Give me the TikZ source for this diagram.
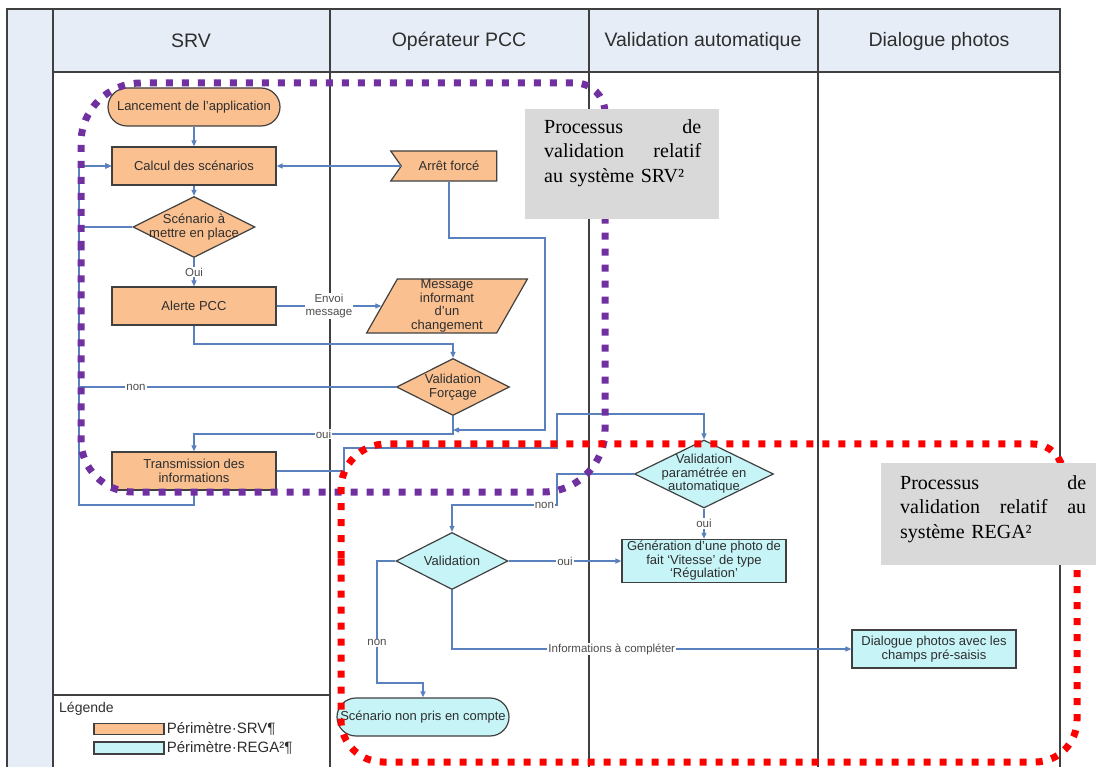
\documentclass[tikz,border=0pt]{standalone}
\usepackage{fontspec}
\setmainfont{Liberation Sans}
\newfontfamily\notefont{Liberation Serif}
\usepackage{xcolor}
\definecolor{ink}{HTML}{2E2E2E}
\definecolor{frame}{HTML}{404040}
\definecolor{laneFill}{HTML}{E6EDF7}
\definecolor{srvFill}{HTML}{FAC090}
\definecolor{regaFill}{HTML}{C6F4F7}
\definecolor{wire}{HTML}{5B80BE}
\definecolor{noteGrey}{HTML}{D9D9D9}
\definecolor{srvZone}{HTML}{7030A0}
\definecolor{regaZone}{HTML}{FF0000}
\usetikzlibrary{shapes.geometric, shapes.symbols, arrows.meta, positioning}

\begin{document}
\begin{tikzpicture}[
  x=1pt, y=-1pt,
  font=\fontsize{13}{13.5}\selectfont,
  every node/.style={align=center, text=ink},
  lane/.style={draw=frame, line width=1.8pt},
  head/.style={font=\fontsize{19.5}{21}\selectfont},
  task/.style={rectangle, draw=frame, line width=1.2pt, minimum width=164pt,
    minimum height=38pt, inner sep=2pt},
  srv/.style={fill=srvFill},
  rega/.style={fill=regaFill},
  term/.style={task, rounded corners=19pt, minimum width=172pt},
  decision/.style={diamond, draw=frame, line width=1.2pt, inner sep=0pt},
  flow/.style={-{Triangle[length=6pt, width=5pt]}, draw=wire, line width=1.2pt},
  lbl/.style={fill=white, inner sep=1pt, font=\fontsize{11.5}{12.5}\selectfont, text=ink!85},
  zone/.style={line width=7pt, dash pattern=on 7pt off 9pt},
  note/.style={rectangle, fill=noteGrey, anchor=north west, inner sep=0pt},
  notetext/.style={anchor=north west, inner sep=0pt, text width=#1, align=left,
    font=\notefont\fontsize{20}{24.5}\selectfont, text=black},
  key/.style={anchor=west, inner sep=0pt, font=\fontsize{15}{16}\selectfont},
]
  \useasboundingbox (0,0) rectangle (1096,767);

  % swimlanes
  \fill[laneFill] (7,9) rectangle (53,767);
  \fill[laneFill] (53,9) rectangle (1060,72);
  \draw[lane] (7,767) -- (7,9) -- (1060,9) -- (1060,767);
  \draw[lane] (53,9) -- (53,767);
  \draw[lane] (53,72) -- (1060,72);
  \foreach \x in {330,589,818} \draw[lane] (\x,9) -- (\x,767);
  \node[head] (hsrv) at (191,41) {SRV};
  \node[head] (hpcc) at (459,41) {Opérateur PCC};
  \node[head] (hauto) at (703,41) {Validation automatique};
  \node[head] (hphoto) at (939,41) {Dialogue photos};

  % legend
  \draw[lane] (53,695) -- (330,695);
  \node[anchor=west, inner sep=0pt, font=\fontsize{14}{15}\selectfont] (legend) at (59,709) {Légende};
  \node[draw=frame, line width=1.2pt, srv, minimum width=70pt, minimum height=11pt, inner sep=0pt] (keysrv) at (129,729) {};
  \node[key] (keysrv-t) at ([xshift=2pt]keysrv.east) {Périmètre·SRV¶};
  \node[draw=frame, line width=1.2pt, rega, minimum width=70pt, minimum height=12pt, inner sep=0pt] (keyrega) at (129,748) {};
  \node[key] (keyrega-t) at ([xshift=2pt]keyrega.east) {Périmètre·REGA²¶};

  % SRV nodes
  \node[term, srv] (lanc) at (194,107) {Lancement de l'application};
  \node[task, srv] (calc) at (194,166) {Calcul des scénarios};
  \node[decision, srv, minimum width=122pt, minimum height=61pt] (scen) at (194,227) {};
  \node (scen-t) at (scen) {Scénario à\\mettre en place};
  \node[task, srv] (alert) at (194,306) {Alerte PCC};
  \node[task, srv] (trans) at (194,471) {Transmission des\\informations};

  % operator nodes
  \node[signal, signal from=west, signal to=nowhere, signal pointer angle=110,
    draw=frame, line width=1.2pt, srv, minimum width=106pt, minimum height=30pt] (stop) at (449,166) {Arrêt forcé};
  \node[trapezium, trapezium left angle=67, trapezium right angle=113, trapezium stretches=true,
    draw=frame, line width=1.2pt, srv, inner sep=0pt, minimum width=161pt, minimum height=54pt] (msg) at (447,306)
    {Message\\informant\\d'un\\changement};
  \node[decision, srv, minimum width=113pt, minimum height=57pt] (forc) at (453,387) {};
  \node (forc-t) at (forc) {Validation\\Forçage};

  % REGA nodes
  \node[decision, rega, minimum width=139pt, minimum height=68pt] (vpar) at (704,474) {};
  \node (vpar-t) at (vpar) {Validation\\paramétrée en\\automatique};
  \node[task, rega] (gen) at (704,561) {Génération d'une photo de\\fait `Vitesse' de type\\`Régulation'};
  \node[decision, rega, minimum width=112pt, minimum height=57pt] (val) at (452,561) {};
  \node (val-t) at (val) {Validation};
  \node[task, rega] (dial) at (934,649) {Dialogue photos avec les\\champs pré-saisis};
  \node[term, rega] (scnp) at (423,717) {Scénario non pris en compte};

  \coordinate (rail) at (79,505);

  % connectors
  \draw[flow] (lanc) -- (calc);
  \draw[flow] (calc) -- (scen);
  \draw[flow] (scen) -- node[lbl] {Oui} (alert);
  \draw[flow] (scen.west) -| (rail |- calc) -- (calc.west);
  \draw[flow] (alert) -- node[lbl] {Envoi\\message} (msg);
  \draw[flow] (alert.south) -- (alert.south |- 0,344) -| (forc.north);
  \draw[flow] (forc.west) -- node[lbl, pos=0.82] {non} (forc.west -| rail) |- (calc.west);
  \draw[flow] (stop.west) -- (stop.west -| calc.east);
  \draw[flow] (stop.south) -- (stop.south |- 0,238) -- (545,238) -- (545,430) -- (forc.south |- 0,430);
  \draw[flow] (forc.south) -- (forc.south |- 0,434) -- node[lbl] {oui} (trans.north |- 0,434) -- (trans.north);
  \draw[flow] (trans.south) -- (trans.south |- rail) -- (rail) |- (calc.west);
  \draw[flow] (trans.east) -- (344,471) -- (344,448) -- (557,448) -- (557,414) -- (vpar.north |- 0,414) -- (vpar.north);
  \draw[flow] (vpar.west) -- (557,474) -- (557,505) -- node[lbl, pos=0.12] {non} (val.north |- 0,505) -- (val.north);
  \draw[flow] (vpar) -- node[lbl] {oui} (gen);
  \draw[flow] (val) -- node[lbl] {oui} (gen);
  \draw[flow] (val.south) |- node[lbl, pos=0.7] {Informations à compléter} (dial.west);
  \draw[flow] (val.west) -- (377,561) -- node[lbl, pos=0.67] {non} (377,683) -- (scnp.north |- 0,683) -- (scnp.north);

  % perimeters
  \draw[zone, draw=srvZone] (81,300) [rounded corners=60pt] -- (81,83) [rounded corners=30pt] -- (605,83)
    [rounded corners=62pt] -- (605,492) [rounded corners=52pt] -- (81,492) -- cycle;
  \draw[zone, draw=regaZone] (341,600) [rounded corners=45pt] -- (341,444) [rounded corners=30pt] -- (1063,444)
    [rounded corners=0pt] -- (1063,515) -- (1077,515) [rounded corners=42pt] -- (1077,762) -- (341,762) -- cycle;

  % notes
  \node[note, minimum width=194pt, minimum height=110pt] (srvnote) at (525,109) {};
  \node[notetext=157pt] (srvnote-t) at ([xshift=19pt, yshift=-10pt]srvnote.north west)
    {Processus\hfill de\\validation\hfill relatif\\au système SRV²};
  \node[note, minimum width=216pt, minimum height=102pt] (reganote) at (881,463) {};
  \node[notetext=186pt] (reganote-t) at ([xshift=19pt, yshift=-12pt]reganote.north west)
    {Processus\hfill de\\validation\hfill relatif\hfill au\\système REGA²};
\end{tikzpicture}
\end{document}
